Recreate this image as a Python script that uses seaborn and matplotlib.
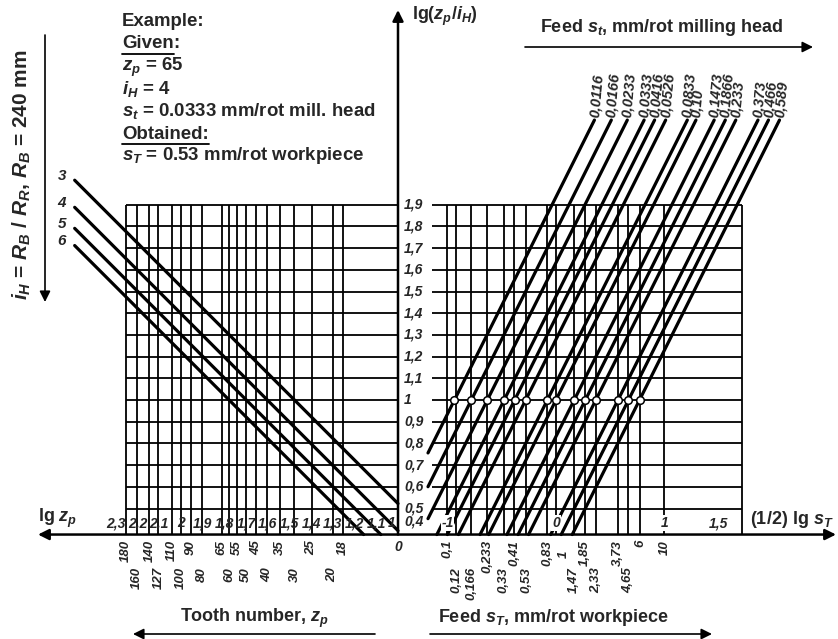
import numpy as np
import pandas as pd
import matplotlib
matplotlib.use("Agg")
import matplotlib.pyplot as plt
import seaborn as sns

# ---------------- data ----------------
i_H_values = [3, 4, 5, 6]
s_t_values = [0.0116, 0.0166, 0.0233, 0.0333, 0.0416, 0.0526, 0.0833, 0.10,
              0.1473, 0.1866, 0.233, 0.373, 0.466, 0.589]
s_t_labels = ["0,0116", "0,0166", "0,0233", "0,0333", "0,0416", "0,0526", "0,0833",
              "0,10", "0,1473", "0,1866", "0,233", "0,373", "0,466", "0,589"]
tooth_row1 = [180, 140, 110, 90, 65, 55, 45, 35, 25, 18]
tooth_row2 = [160, 127, 100, 80, 60, 50, 40, 30, 20]
lg_zp_labels = [2.3, 2.2, 2.1, 2.0, 1.9, 1.8, 1.7, 1.6, 1.5, 1.4, 1.3, 1.2, 1.1, 1.0]
center_ticks = [1.9, 1.8, 1.7, 1.6, 1.5, 1.4, 1.3, 1.2, 1.1, 1.0, 0.9, 0.8, 0.7, 0.6, 0.5]
sT_row1 = [0.1, 0.233, 0.41, 0.83, 1, 1.85, 3.73, 6, 10]
sT_row2 = [0.12, 0.166, 0.33, 0.53, 1.47, 2.33, 4.65]
lg_sT_labels = [-1, 0, 1, 1.5]
example_lines = ["Example:", "Given", "$z_p$ = 65", "$i_H$ = 4",
                 "$s_t$ = 0.0333 mm/rot mill. head", "Obtained:",
                 "$s_T$ = 0.53 mm/rot workpiece"]

# ---------------- style ----------------
sns.set_theme(style="white")
plt.rcParams["font.family"] = ["Liberation Sans", "DejaVu Sans"]
plt.rcParams["mathtext.fontset"] = "custom"
plt.rcParams["mathtext.rm"] = "Liberation Sans:bold"
plt.rcParams["mathtext.it"] = "Liberation Sans:bold:italic"
plt.rcParams["mathtext.bf"] = "Liberation Sans:bold"

W, H = 838, 639
SC = 217.0          # pixels per nomogram unit
def X(px): return (px - 398) / SC
def Y(py): return 1 + (400 - py) / SC

U0 = 0.728          # right-scale offset
V_AXIS = 0.38
V_TOP = 1.9
V_LINE_TOP = 2.29
U_START = -1.49
U_RIGHT_CLIP = X(428)
U_RIGHT_END = X(742)

def fmt(v):
    return f"{v:g}".replace(".", ",")

def u_left(z):
    return -(np.log10(z) - 1)

def u_right(sT):
    return U0 + 0.5 * np.log10(sT)

fig = plt.figure(figsize=(W / 100, H / 100), dpi=100)
ax = fig.add_axes([0, 0, 1, 1])
ax.set_axis_off()

GLW = 1.3
# ---------------- grids ----------------
tooth_all = tooth_row1 + tooth_row2
ax.vlines([u_left(z) for z in tooth_all], V_AXIS, V_TOP, color="black", lw=GLW)
ax.hlines(center_ticks, u_left(180), 0, color="black", lw=GLW)
sT_all = sT_row1 + sT_row2
ax.vlines([u_right(s) for s in sT_all] + [U_RIGHT_END], V_AXIS, V_TOP, color="black", lw=GLW)
ax.hlines(center_ticks, X(432), U_RIGHT_END, color="black", lw=GLW)

# ---------------- i_H lines ----------------
rows = []
for i in i_H_values:
    c = 1 - np.log10(i)
    u_end = min(0.0, c - V_AXIS)
    rows.append((f"i{i}", U_START, c - U_START))
    rows.append((f"i{i}", u_end, c - u_end))
df_i = pd.DataFrame(rows, columns=["line", "u", "v"])
sns.lineplot(data=df_i, x="u", y="v", units="line", estimator=None, sort=False,
             color="black", linewidth=2.3, ax=ax)
for i in i_H_values:
    c = 1 - np.log10(i)
    ax.text(U_START - 0.04, c - U_START + 0.02, str(i), ha="right", va="center",
            fontsize=11, style="italic", fontweight="bold")

# ---------------- s_t lines ----------------
rows = []
for s in s_t_values:
    ls = np.log10(s)
    v_low = max(V_AXIS, 2 * (U_RIGHT_CLIP - U0) - ls)
    for v in (v_low, V_LINE_TOP):
        rows.append((str(s), U0 + 0.5 * (ls + v), v))
df_s = pd.DataFrame(rows, columns=["line", "u", "v"])
sns.lineplot(data=df_s, x="u", y="v", units="line", estimator=None, sort=False,
             color="black", linewidth=2.3, ax=ax)
df_c = pd.DataFrame({"u": [U0 + 0.5 * (np.log10(s) + 1) for s in s_t_values],
                     "v": [1.0] * len(s_t_values)})
sns.scatterplot(data=df_c, x="u", y="v", s=30, color="white", edgecolor="black",
                linewidth=1.1, zorder=5, ax=ax)
for s, lab in zip(s_t_values, s_t_labels):
    ut = U0 + 0.5 * (np.log10(s) + V_LINE_TOP)
    ax.text(ut, V_LINE_TOP + 0.012, lab, rotation=85, rotation_mode="anchor",
            ha="left", va="center", fontsize=10.5, style="italic", fontweight="bold")

# ---------------- axes & arrows ----------------
arrow = dict(arrowstyle="-|>", color="black", lw=1.8, mutation_scale=16,
             shrinkA=0, shrinkB=0)
ax.annotate("", xy=(X(836), V_AXIS), xytext=(X(38), V_AXIS),
            arrowprops=dict(arrowstyle="<|-|>", color="black", lw=1.8,
                            mutation_scale=16, shrinkA=0, shrinkB=0))
ax.annotate("", xy=(0, Y(10)), xytext=(0, V_AXIS), arrowprops=arrow)
ax.annotate("", xy=(X(45), Y(302)), xytext=(X(45), Y(35)),
            arrowprops=dict(arrow, lw=1.2))
ax.annotate("", xy=(X(813), Y(47)), xytext=(X(525), Y(47)),
            arrowprops=dict(arrow, lw=1.2))
ax.annotate("", xy=(X(133), Y(634)), xytext=(X(375), Y(634)),
            arrowprops=dict(arrow, lw=1.2))
ax.annotate("", xy=(X(712), Y(634)), xytext=(X(430), Y(634)),
            arrowprops=dict(arrow, lw=1.2))

# ---------------- tick labels ----------------
TK = dict(style="italic", fontweight="bold")
for t in center_ticks:
    ax.text(X(404), t, fmt(t), ha="left", va="center", fontsize=10, **TK)
ax.text(X(404), Y(521), "0,4", ha="left", va="center", fontsize=10, **TK)

for val in lg_zp_labels:
    u = u_left(10 ** val)
    ha = "right" if val == 1.0 else "center"
    ax.text(u - (0.01 if val == 1.0 else 0), Y(523), fmt(val), ha=ha, va="center",
            fontsize=10, **TK)
for val in lg_sT_labels:
    ax.text(u_right(10 ** val), Y(523), fmt(val), ha="center", va="center",
            fontsize=10, zorder=6,
            bbox=dict(boxstyle="square,pad=0.05", fc="white", ec="none"), **TK)

for z in tooth_row1:
    ax.text(u_left(z), Y(540), str(z), rotation=90, ha="center", va="top",
            fontsize=9.5, **TK)
for z in tooth_row2:
    ax.text(u_left(z), Y(567), str(z), rotation=90, ha="center", va="top",
            fontsize=9.5, **TK)
ax.text(0, Y(540), "0", ha="center", va="top", fontsize=10, **TK)
for s in sT_row1:
    dx, ytop = (X(406) - X(398), Y(551)) if s == 1 else (0, Y(540))
    ax.text(u_right(s) + dx, ytop, fmt(s), rotation=90, ha="center", va="top",
            fontsize=9.5, **TK)
for s in sT_row2:
    ax.text(u_right(s), Y(567), fmt(s), rotation=90, ha="center", va="top",
            fontsize=9.5, **TK)

# ---------------- titles / labels ----------------
FS = 13
BT = dict(fontsize=FS, fontweight="bold")
ax.text(X(38), Y(518), "lg $z_p$", ha="left", va="center", **BT)
ax.text(X(750), Y(519), "(1/2) lg $s_T$", ha="left", va="center", **BT)
ax.text(X(412), Y(16), "lg($z_p$/$i_H$)", ha="left", va="center", **BT)
ax.text(X(540), Y(28), "Feed $s_t$, mm/rot milling head", ha="left", va="center", **BT)
ax.text(X(180), Y(618), "Tooth number, $z_p$", ha="left", va="center", **BT)
ax.text(X(438), Y(618), "Feed $s_T$, mm/rot workpiece", ha="left", va="center", **BT)
ax.text(X(22), Y(175), "$i_H$ = $R_B$ / $R_R$, $R_B$ = 240 mm", rotation=90,
        ha="center", va="center", fontsize=15, fontweight="bold")

ys = [22, 44, 67, 89, 111, 134, 156]
txt_objs = []
for line, yy in zip(example_lines, ys):
    txt_objs.append(ax.text(X(122), Y(yy), line, ha="left", va="center",
                            fontsize=13.4, fontweight="bold"))

ax.set_xlim(X(0), X(W))
ax.set_ylim(Y(H), Y(0))
ax.set_xlabel("")
ax.set_ylabel("")

fig.canvas.draw()
inv = ax.transData.inverted()
r = fig.canvas.get_renderer()
for idx in (1, 5):
    bb = txt_objs[idx].get_window_extent(r)
    (x0, y0), (x1, y1) = inv.transform([(bb.x0, bb.y0), (bb.x1, bb.y0)])
    ax.plot([x0, x1], [y0 - 0.005, y0 - 0.005], color="black", lw=1.3)
bb = txt_objs[1].get_window_extent(r)
xg, _ = inv.transform((bb.x1, bb.y0))
ax.text(xg, Y(ys[1]), ":", ha="left", va="center", fontsize=13.4, fontweight="bold")

fig.savefig("out.png", dpi=100)
